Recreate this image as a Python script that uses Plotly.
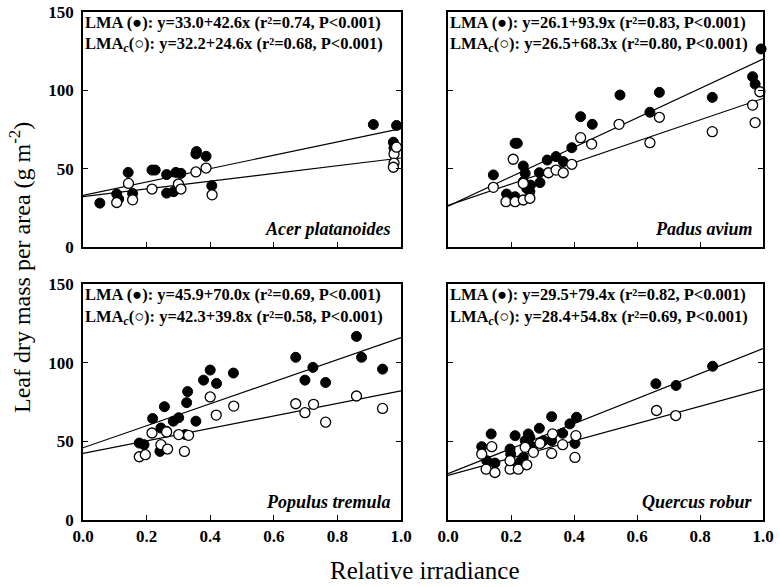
import plotly.graph_objects as go

species = ["Acer platanoides", "Padus avium", "Populus tremula", "Quercus robur"]

# LMA (filled) and LMAc (open) points, x = relative irradiance, y = g m-2
acer_fx = [0.053, 0.106, 0.112, 0.142, 0.156, 0.217, 0.227, 0.263, 0.263, 0.285, 0.292, 0.308, 0.355, 0.357, 0.387, 0.405, 0.913, 0.986, 0.976, 0.978]
acer_fy = [28.0, 33.8, 30.6, 47.6, 34.2, 49.1, 49.1, 46.2, 34.4, 35.3, 47.6, 47.0, 59.4, 60.9, 57.9, 39.1, 78.2, 77.6, 66.9, 63.2]
acer_ox = [0.106, 0.143, 0.156, 0.217, 0.300, 0.308, 0.355, 0.387, 0.406, 0.978, 0.978, 0.976, 0.986]
acer_oy = [28.4, 40.6, 30.1, 37.0, 40.2, 37.0, 47.9, 50.4, 33.3, 59.4, 53.6, 50.9, 63.7]

padus_fx = [0.144, 0.213, 0.220, 0.186, 0.213, 0.239, 0.245, 0.239, 0.250, 0.260, 0.262, 0.290, 0.292, 0.315, 0.343, 0.366, 0.393, 0.421, 0.458, 0.546, 0.641, 0.671, 0.839, 0.967, 0.975, 0.994]
padus_fy = [46.0, 66.2, 66.2, 33.8, 32.1, 51.7, 47.0, 41.7, 37.4, 35.3, 39.5, 47.4, 41.1, 55.5, 57.7, 54.5, 63.4, 83.2, 78.3, 97.0, 86.0, 98.7, 95.5, 108.7, 104.0, 126.4]
padus_ox = [0.144, 0.184, 0.213, 0.239, 0.260, 0.207, 0.239, 0.319, 0.343, 0.366, 0.393, 0.421, 0.456, 0.543, 0.641, 0.671, 0.839, 0.967, 0.975, 0.990]
padus_oy = [38.1, 28.9, 28.9, 30.0, 31.1, 56.0, 40.6, 47.4, 49.1, 47.4, 52.8, 69.8, 65.7, 78.3, 66.6, 82.8, 73.6, 90.6, 79.4, 99.1]

populus_fx = [0.177, 0.192, 0.219, 0.242, 0.245, 0.256, 0.263, 0.284, 0.301, 0.326, 0.329, 0.322, 0.355, 0.379, 0.400, 0.420, 0.473, 0.669, 0.698, 0.723, 0.763, 0.860, 0.876, 0.942]
populus_fy = [48.9, 47.9, 64.5, 43.6, 58.5, 72.0, 56.4, 62.8, 65.0, 74.6, 81.6, 54.3, 62.8, 88.9, 95.3, 86.8, 93.4, 103.4, 88.9, 97.0, 87.4, 116.7, 103.4, 95.9]
populus_ox = [0.177, 0.196, 0.217, 0.245, 0.266, 0.263, 0.301, 0.319, 0.332, 0.400, 0.419, 0.474, 0.669, 0.698, 0.725, 0.763, 0.860, 0.942]
populus_oy = [40.2, 41.5, 55.3, 47.9, 45.1, 56.0, 54.3, 43.6, 53.8, 78.2, 66.7, 72.4, 73.9, 68.2, 73.5, 62.2, 78.8, 70.9]

quercus_fx = [0.107, 0.123, 0.137, 0.149, 0.197, 0.199, 0.213, 0.226, 0.239, 0.245, 0.255, 0.260, 0.266, 0.290, 0.303, 0.329, 0.329, 0.364, 0.387, 0.408, 0.403, 0.660, 0.724, 0.840]
quercus_fy = [46.6, 37.7, 54.7, 36.2, 45.1, 41.9, 53.6, 36.6, 39.8, 50.4, 54.7, 52.5, 46.6, 58.3, 50.4, 65.7, 50.4, 55.1, 61.1, 65.3, 48.7, 86.6, 85.5, 97.7]
quercus_ox = [0.107, 0.139, 0.121, 0.149, 0.197, 0.223, 0.250, 0.197, 0.245, 0.271, 0.292, 0.329, 0.332, 0.364, 0.406, 0.403, 0.662, 0.723]
quercus_oy = [41.9, 46.6, 32.3, 30.2, 32.3, 32.3, 35.1, 37.7, 46.2, 43.0, 48.7, 42.3, 54.7, 47.9, 53.6, 39.8, 69.6, 66.4]

# regression coefficients (intercept, slope, r2) from the figure
lma_int = [33.0, 26.1, 45.9, 29.5]
lma_slope = [42.6, 93.9, 70.0, 79.4]
lma_r2 = ["0.74", "0.83", "0.69", "0.82"]
lmac_int = [32.2, 26.5, 42.3, 28.4]
lmac_slope = [24.6, 68.3, 39.8, 54.8]
lmac_r2 = ["0.68", "0.80", "0.58", "0.69"]

x_ticks = [0.0, 0.2, 0.4, 0.6, 0.8, 1.0]
y_ticks = [0, 50, 100, 150]

filled = [(acer_fx, acer_fy), (padus_fx, padus_fy), (populus_fx, populus_fy), (quercus_fx, quercus_fy)]
opened = [(acer_ox, acer_oy), (padus_ox, padus_oy), (populus_ox, populus_oy), (quercus_ox, quercus_oy)]

W, H = 780, 587
xdoms = [(83 / W, 401 / W), (448 / W, 763 / W)]
ydoms = [(1 - 247 / H, 1 - 12 / H), (1 - 520 / H, 1 - 284 / H)]

FONT = "'Liberation Serif', 'Times New Roman', Times, serif"
fig = go.Figure()

for i in range(4):
    r, c = divmod(i, 2)
    ax = "" if i == 0 else str(i + 1)
    xa, ya = "x" + ax, "y" + ax
    lx = [0.0, 1.0]
    fig.add_trace(go.Scatter(x=lx, y=[lma_int[i] + lma_slope[i] * v for v in lx], mode="lines",
                             line=dict(color="black", width=1.2), xaxis=xa, yaxis=ya, showlegend=False))
    fig.add_trace(go.Scatter(x=lx, y=[lmac_int[i] + lmac_slope[i] * v for v in lx], mode="lines",
                             line=dict(color="black", width=1.2), xaxis=xa, yaxis=ya, showlegend=False))
    fig.add_trace(go.Scatter(x=filled[i][0], y=filled[i][1], mode="markers",
                             marker=dict(size=10, color="black", line=dict(color="black", width=1)),
                             xaxis=xa, yaxis=ya, showlegend=False, cliponaxis=False))
    fig.add_trace(go.Scatter(x=opened[i][0], y=opened[i][1], mode="markers",
                             marker=dict(size=10, color="white", line=dict(color="black", width=1.3)),
                             xaxis=xa, yaxis=ya, showlegend=False, cliponaxis=False))

    common = dict(showgrid=False, zeroline=False, showline=True, linecolor="black", linewidth=1.5,
                  ticks="inside", ticklen=5, tickcolor="black", tickwidth=1.2, automargin=False,
                  tickfont=dict(family=FONT, size=17, color="black"))
    fig.layout["xaxis" + ax] = dict(common, domain=list(xdoms[c]), range=[0, 1.0], tickvals=x_ticks,
                                    ticktext=["<b>%.1f</b>" % v for v in x_ticks], mirror=True,
                                    showticklabels=(r == 1), anchor=ya)
    fig.layout["yaxis" + ax] = dict(common, domain=list(ydoms[r]), range=[0, 150], tickvals=y_ticks,
                                    ticktext=["<b>%d</b>" % v for v in y_ticks], mirror="ticks",
                                    showticklabels=(c == 0), anchor=xa, ticklabelstandoff=4)

    dx = xa + " domain"
    dy = ya + " domain"
    fig.add_annotation(xref=dx, yref=dy, x=0.0, y=0.955, xanchor="left", yanchor="middle", showarrow=False,
                       text="<b>LMA (●): y=%.1f+%.1fx (r²=%s, P&lt;0.001)</b>" % (lma_int[i], lma_slope[i], lma_r2[i]),
                       font=dict(family=FONT, size=16.5, color="black"))
    fig.add_annotation(xref=dx, yref=dy, x=0.0, y=0.862, xanchor="left", yanchor="middle", showarrow=False,
                       text="<b>LMA<sub><i>c</i></sub>(○): y=%.1f+%.1fx (r²=%s, P&lt;0.001)</b>" % (lmac_int[i], lmac_slope[i], lmac_r2[i]),
                       font=dict(family=FONT, size=16.5, color="black"))
    fig.add_annotation(xref=dx, yref=dy, x=0.975, y=0.075, xanchor="right", yanchor="middle", showarrow=False,
                       text="<b><i>%s</i></b>" % species[i],
                       font=dict(family=FONT, size=18, color="black"))

fig.add_annotation(xref="paper", yref="paper", x=20 / W, y=1 - 268 / H, textangle=-90, showarrow=False,
                   xanchor="center", yanchor="middle",
                   text="Leaf dry mass per area (g m<sup>-2</sup>)",
                   font=dict(family=FONT, size=24, color="black"))
fig.add_annotation(xref="paper", yref="paper", x=425 / W, y=1 - 570 / H, showarrow=False,
                   xanchor="center", yanchor="middle",
                   text="Relative irradiance",
                   font=dict(family=FONT, size=25, color="black"))

fig.update_layout(width=W, height=H, margin=dict(l=0, r=0, t=0, b=0),
                  plot_bgcolor="white", paper_bgcolor="white", showlegend=False)

fig.write_html("out.html", post_script="document.body.style.margin='0';document.body.style.padding='0';")
